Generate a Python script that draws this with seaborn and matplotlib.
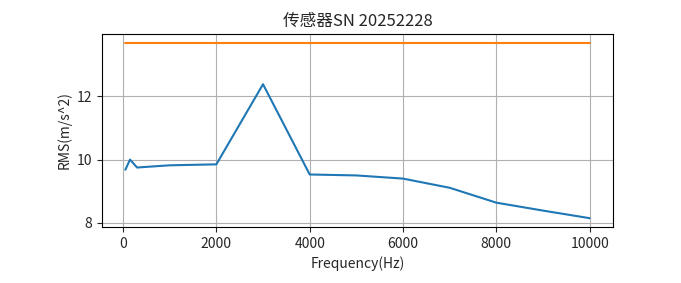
import matplotlib
matplotlib.use("Agg")
import matplotlib.pyplot as plt
import seaborn as sns
import pandas as pd

freq = [50, 150, 300, 1000, 2000, 3000, 4000, 5000, 6000, 7000, 8000, 9000, 10000]
rms = [9.68, 10.0, 9.75, 9.82, 9.85, 12.38, 9.53, 9.50, 9.40, 9.11, 8.64, 8.39, 8.15]
limit = [13.69] * len(freq)

sns.set_style("ticks")
plt.rcParams['font.family'] = ['Noto Sans CJK SC', 'DejaVu Sans']
plt.rcParams['axes.unicode_minus'] = False

df = pd.DataFrame({"freq": freq, "rms": rms, "limit": limit})

fig, ax = plt.subplots(figsize=(6.81, 2.83), dpi=100)
fig.subplots_adjust(left=0.15, right=0.9, top=0.88, bottom=0.198)
sns.lineplot(data=df, x="freq", y="rms", ax=ax, color="#1f77b4", linewidth=1.5)
sns.lineplot(data=df, x="freq", y="limit", ax=ax, color="#ff7f0e", linewidth=1.5)
ax.grid(True, color="#b0b0b0", linewidth=0.8)
ax.set_xticks([0, 2000, 4000, 6000, 8000, 10000])
ax.set_yticks([8, 10, 12])
ax.tick_params(labelsize=10)
ax.set_title("传感器SN 20252228", fontsize=12)
ax.set_xlabel("Frequency(Hz)", fontsize=10)
ax.set_ylabel("RMS(m/s^2)", fontsize=10)
for s in ax.spines.values():
    s.set_visible(True)
    s.set_color("black")
fig.savefig("out.png", dpi=100)
